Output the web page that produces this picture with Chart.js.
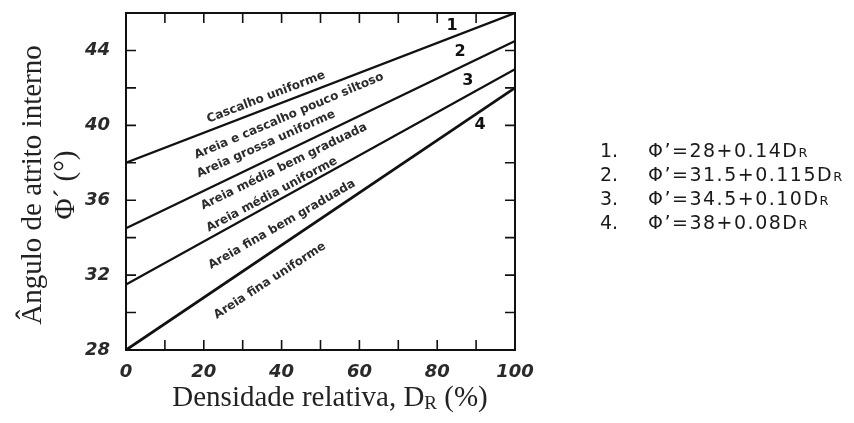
<!DOCTYPE html>
<html>
<head>
<meta charset="utf-8">
<script src="https://cdn.jsdelivr.net/npm/chart.js@4.4.0/dist/chart.umd.min.js"></script>
<style>
    html, body { margin: 0; padding: 0; background: #fff; }
    #wrap { position: relative; width: 854px; height: 423px; }
    #eqs {
        position: absolute; left: 600px; top: 138px;
        font-family: "DejaVu Sans"; font-size: 19px; color: #1a1a1a;
    }
    #eqs div { height: 24px; line-height: 24px; white-space: nowrap; }
    #eqs .n { display: inline-block; width: 48px; }
    #eqs .f { letter-spacing: 1.5px; }
    #eqs .r { font-size: 0.68em; line-height: 0; }
</style>
</head>
<body>
<div id="wrap">
    <canvas id="friction-chart" width="854" height="423"></canvas>
    <div id="eqs"></div>
</div>
<script>
    // relative density (%) at both ends of each line
    const densityPoints = [0, 100];
    // friction angle (deg) read at DR = 0 and DR = 100
    const curve1 = [38, 46];
    const curve2 = [34.5, 44.5];
    const curve3 = [31.5, 43];
    const curve4 = [28, 42];
    const curveNames = ["1", "2", "3", "4"];

    const xTickLabels = [0, 20, 40, 60, 80, 100];
    const yTickLabels = [28, 32, 36, 40, 44];

    const soilTypes = [
        "Cascalho uniforme",
        "Areia e cascalho pouco siltoso",
        "Areia grossa uniforme",
        "Areia média bem graduada",
        "Areia média uniforme",
        "Areia fina bem graduada",
        "Areia fina uniforme",
    ];

    const equationTerms = ["28+0.14", "31.5+0.115", "34.5+0.10", "38+0.08"];

    // where the soil names sit (data units) and their tilt
    const soilLabelPos = [
        [36.0, 41.5, -21],
        [41.9, 40.5, -23],
        [36.0, 39.0, -24],
        [40.6, 37.8, -26],
        [37.5, 36.3, -28],
        [40.1, 34.7, -30],
        [37.0, 31.7, -33],
    ];
    const curveNamePos = [
        [83.8, 45.3],
        [85.9, 43.9],
        [87.9, 42.4],
        [91.0, 40.0],
    ];

    const toPoints = (vals) => densityPoints.map((d, i) => ({ x: d, y: vals[i] }));

    const decorPlugin = {
        id: "decor",
        afterDatasetsDraw(chart) {
            const { ctx, chartArea: area, scales: { x, y } } = chart;
            ctx.save();

            // frame
            ctx.strokeStyle = "#111";
            ctx.lineWidth = 2;
            ctx.strokeRect(area.left, area.top, area.right - area.left, area.bottom - area.top);

            // tick marks pointing inwards
            ctx.lineWidth = 1.6;
            ctx.beginPath();
            x.ticks.forEach((t) => {
                if (t.value <= x.min || t.value >= x.max) return;
                const px = x.getPixelForValue(t.value);
                ctx.moveTo(px, area.bottom);
                ctx.lineTo(px, area.bottom - 10);
                ctx.moveTo(px, area.top);
                ctx.lineTo(px, area.top + 10);
            });
            y.ticks.forEach((t) => {
                if (t.value <= y.min || t.value >= y.max) return;
                const py = y.getPixelForValue(t.value);
                ctx.moveTo(area.left, py);
                ctx.lineTo(area.left + 10, py);
                ctx.moveTo(area.right, py);
                ctx.lineTo(area.right - 10, py);
            });
            ctx.stroke();

            // soil names along the lines
            ctx.fillStyle = "#2b2b2b";
            ctx.font = "bold 12px 'DejaVu Sans'";
            ctx.textAlign = "center";
            ctx.textBaseline = "middle";
            soilTypes.forEach((name, i) => {
                const [dx, dy, ang] = soilLabelPos[i];
                ctx.save();
                ctx.translate(x.getPixelForValue(dx), y.getPixelForValue(dy));
                ctx.rotate((ang * Math.PI) / 180);
                ctx.fillText(name, 0, 0);
                ctx.restore();
            });

            // curve numbers
            ctx.font = "bold 16px 'DejaVu Sans'";
            ctx.fillStyle = "#111";
            curveNames.forEach((n, i) => {
                const [dx, dy] = curveNamePos[i];
                ctx.fillText(n, x.getPixelForValue(dx), y.getPixelForValue(dy));
            });

            // x title with subscript R
            ctx.fillStyle = "#222";
            ctx.textAlign = "left";
            ctx.textBaseline = "alphabetic";
            const big = "29px 'Liberation Serif'";
            const small = "19px 'Liberation Serif'";
            const partA = "Densidade relativa, D";
            const partB = "R";
            const partC = " (%)";
            ctx.font = big;
            const wA = ctx.measureText(partA).width;
            const wC = ctx.measureText(partC).width;
            ctx.font = small;
            const wB = ctx.measureText(partB).width;
            let tx = 330 - (wA + wB + wC) / 2;
            const ty = 406;
            ctx.font = big;
            ctx.fillText(partA, tx, ty);
            ctx.font = small;
            ctx.fillText(partB, tx + wA, ty + 3);
            ctx.font = big;
            ctx.fillText(partC, tx + wA + wB, ty);

            // y title, two lines
            ctx.save();
            ctx.translate(0, 185);
            ctx.rotate(-Math.PI / 2);
            ctx.textAlign = "center";
            ctx.textBaseline = "middle";
            ctx.font = big;
            ctx.fillText("Ângulo de atrito interno", 0, 33);
            ctx.fillText("Φ´ (°)", 0, 66);
            ctx.restore();

            ctx.restore();
        },
    };

    const lineStyle = {
        borderColor: "#111",
        borderWidth: 2.3,
        pointRadius: 0,
        fill: false,
        tension: 0,
    };

    const frictionData = {
        datasets: [
            { label: curveNames[0], data: toPoints(curve1), ...lineStyle },
            { label: curveNames[1], data: toPoints(curve2), ...lineStyle },
            { label: curveNames[2], data: toPoints(curve3), ...lineStyle },
            { label: curveNames[3], data: toPoints(curve4), ...lineStyle, borderWidth: 2.8 },
        ],
    };

    const tickFont = { family: "DejaVu Sans", size: 18, style: "italic", weight: "bold" };

    const frictionConfig = {
        type: "line",
        data: frictionData,
        options: {
            responsive: false,
            animation: false,
            layout: { padding: { left: 0, right: 339, top: 13, bottom: 0 } },
            plugins: {
                legend: { display: false },
                tooltip: { enabled: false },
            },
            scales: {
                x: {
                    type: "linear",
                    min: 0,
                    max: 100,
                    grid: { display: false },
                    border: { display: false },
                    ticks: {
                        stepSize: 10,
                        autoSkip: false,
                        maxRotation: 0,
                        padding: 4,
                        color: "#2a2a2a",
                        font: tickFont,
                        callback: (v) => (xTickLabels.includes(v) ? String(v) : ""),
                    },
                    afterFit: (scale) => {
                        scale.height = 73;
                        scale.paddingLeft = 0;
                        scale.paddingRight = 0;
                    },
                },
                y: {
                    min: 28,
                    max: 46,
                    grid: { display: false },
                    border: { display: false },
                    ticks: {
                        stepSize: 2,
                        autoSkip: false,
                        padding: 8,
                        color: "#2a2a2a",
                        font: tickFont,
                        callback: (v) => (yTickLabels.includes(v) ? String(v) : ""),
                    },
                    afterFit: (scale) => {
                        scale.width = 126;
                        scale.paddingTop = 0;
                        scale.paddingBottom = 0;
                    },
                },
            },
        },
        plugins: [decorPlugin],
    };

    const frictionChart = new Chart(
        document.getElementById("friction-chart"),
        frictionConfig
    );

    // equations on the right
    const eqBox = document.getElementById("eqs");
    equationTerms.forEach((term, i) => {
        const row = document.createElement("div");
        row.innerHTML = `<span class="n">${i + 1}.</span><span class="f">Φ’=${term}D<span class="r">R</span></span>`;
        eqBox.appendChild(row);
    });
</script>
</body>
</html>
